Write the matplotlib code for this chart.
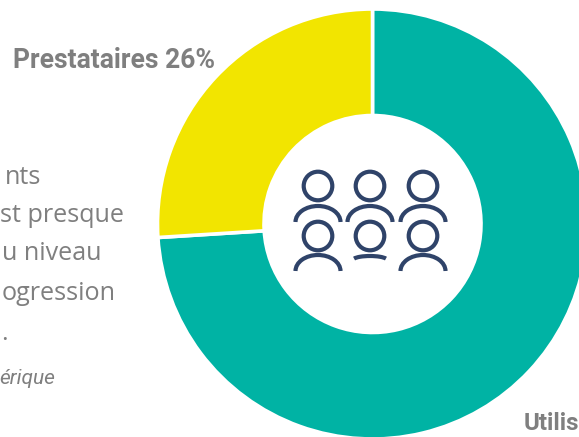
import matplotlib
matplotlib.use("Agg")
import matplotlib.pyplot as plt
from matplotlib.patches import Circle, Arc

# Data
shares = [74, 26]
colors = ["#00B3A4", "#F2E500"]
label_prest = "Prestataires 26%"
label_util = "Utilis"
body_lines = ["nts", "st presque", "u niveau", "ogression", "."]
source_line = "érique"

W, H = 579, 437
navy = "#2F4369"
grey = "#7F7F7F"


def Y(y):
    # picture y (from the top) to axes y
    return H - y


fig = plt.figure(figsize=(W / 100, H / 100), dpi=100)
ax = fig.add_axes([0, 0, 1, 1])

# Donut
ax.pie(shares, colors=colors, startangle=90, counterclock=False,
       center=(372.5, Y(224)), radius=215, frame=True,
       wedgeprops=dict(width=106.5, edgecolor="white", linewidth=2.6))
ax.set_xlim(0, W)
ax.set_ylim(0, H)
ax.set_aspect("auto")
ax.axis("off")

# Labels
ax.text(215, Y(60.5), label_prest, ha="right", va="center", fontsize=19.1,
        fontweight="bold", family="Roboto", color=grey)
ax.text(524, Y(424), label_util, ha="left", va="center", fontsize=17.4,
        fontweight="bold", family="Roboto", color=grey)

# Left paragraph, cut by the picture edge
for text, right, yc in zip(body_lines, [41, 124, 102, 116, 8], [178, 216, 254, 294, 334]):
    ax.text(right, Y(yc), text, ha="right", va="center", fontsize=18.1,
            family="Open Sans", color=grey)
ax.text(55, Y(379), source_line, ha="right", va="center", fontsize=15,
        style="italic", family="Roboto", color=grey)

# People icon in the hole
lw = 3
for cx in [318, 370, 423]:
    ax.add_patch(Circle((cx, Y(186)), 14.3, fill=False, ec=navy, lw=lw))
    ax.add_patch(Arc((cx, Y(222)), 45, 32, theta1=0, theta2=180, ec=navy, lw=lw))
    ax.add_patch(Circle((cx, Y(236)), 14.3, fill=False, ec=navy, lw=lw))
for cx in [318, 423]:
    ax.add_patch(Arc((cx, Y(271)), 45, 32, theta1=0, theta2=180, ec=navy, lw=lw))
ax.add_patch(Arc((370, Y(260)), 34, 8, theta1=5, theta2=175, ec=navy, lw=lw))

fig.savefig("out.png", dpi=100)
